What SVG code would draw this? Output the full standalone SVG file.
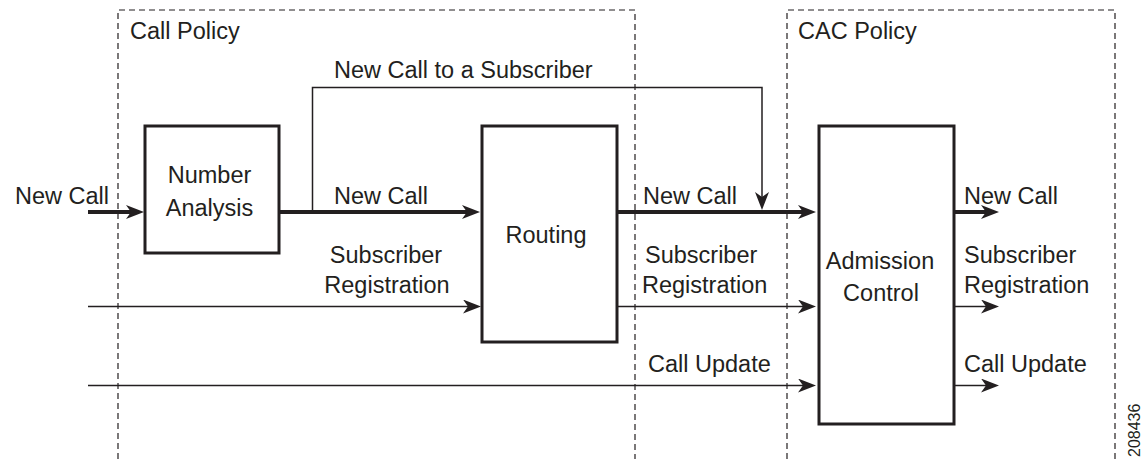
<svg xmlns="http://www.w3.org/2000/svg" width="1147" height="459" viewBox="0 0 1147 459">
<style>
text{font-family:"Liberation Sans",Arial,Helvetica,sans-serif;font-size:23.5px;fill:#231f20}
.box{fill:#fff;stroke:#231f20;stroke-width:3}
.dash{fill:none;stroke:#231f20;stroke-width:1.2;stroke-dasharray:6 4}
.thick{fill:none;stroke:#231f20;stroke-width:4}
.thin{fill:none;stroke:#231f20;stroke-width:1.5}
.mid{text-anchor:middle}
</style>
<defs>
<marker id="ah" viewBox="-5 -7 18 14" refX="0" refY="0" markerWidth="18" markerHeight="14" markerUnits="userSpaceOnUse" orient="auto">
<path d="M13,0 L-5,-7 L0,0 L-5,7 Z" fill="#231f20"/>
</marker>
</defs>
<g id="call-policy">
<path class="dash" d="M118,459 V10 H635 V459"/>
<text x="130" y="39">Call Policy</text>
</g>
<g id="cac-policy">
<path class="dash" d="M787,459 V10 H1115 V459"/>
<text x="798" y="39">CAC Policy</text>
</g>
<g id="connectors">
<line class="thick" x1="88" y1="212" x2="131" y2="212" marker-end="url(#ah)"/>
<line class="thick" x1="280" y1="212" x2="467" y2="212" marker-end="url(#ah)"/>
<line class="thick" x1="618" y1="212" x2="803" y2="212" marker-end="url(#ah)"/>
<line class="thick" x1="954" y1="212" x2="986" y2="212" marker-end="url(#ah)"/>
<path class="thin" d="M312.5,212 V87.5 H762 V197" marker-end="url(#ah)"/>
<line class="thin" x1="88" y1="306.5" x2="468" y2="306.5" marker-end="url(#ah)"/>
<line class="thin" x1="618" y1="306.5" x2="803" y2="306.5" marker-end="url(#ah)"/>
<line class="thin" x1="954" y1="306.5" x2="986" y2="306.5" marker-end="url(#ah)"/>
<line class="thin" x1="88" y1="385.5" x2="803" y2="385.5" marker-end="url(#ah)"/>
<line class="thin" x1="954" y1="385.5" x2="986" y2="385.5" marker-end="url(#ah)"/>
</g>
<g id="number-analysis">
<rect class="box" x="145" y="126" width="134" height="127"/>
<text class="mid" x="209.5" y="183">Number</text>
<text class="mid" x="209.5" y="216">Analysis</text>
</g>
<g id="routing">
<rect class="box" x="482" y="126" width="135" height="216"/>
<text class="mid" x="546" y="243">Routing</text>
</g>
<g id="admission-control">
<rect class="box" x="819" y="126" width="135" height="298"/>
<text class="mid" x="880" y="269">Admission</text>
<text class="mid" x="881" y="301">Control</text>
</g>
<g id="labels">
<text x="15" y="204">New Call</text>
<text x="334" y="78">New Call to a Subscriber</text>
<text x="334" y="204">New Call</text>
<text x="643" y="204">New Call</text>
<text x="964" y="204">New Call</text>
<text class="mid" x="386" y="263">Subscriber</text>
<text class="mid" x="387" y="293">Registration</text>
<text x="645" y="263">Subscriber</text>
<text x="642" y="293">Registration</text>
<text x="648" y="372">Call Update</text>
<text x="964" y="263">Subscriber</text>
<text x="964" y="293">Registration</text>
<text x="964" y="372">Call Update</text>
<text x="1140" y="457" transform="rotate(-90 1140 457)" style="font-size:16px">208436</text>
</g>
</svg>
